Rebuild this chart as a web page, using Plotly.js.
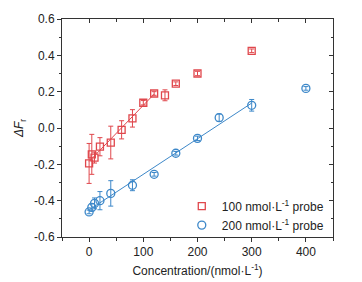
<!DOCTYPE html>
<html><head><meta charset="utf-8">
<script src="https://cdn.plot.ly/plotly-3.0.1.min.js"></script>
<style>html,body{margin:0;padding:0;background:#fff;}#chart{width:362px;height:282px;}</style>
</head><body><div id="chart"></div>
<script>
// Series 1: 100 nmol/L probe
const conc1 = [0, 5, 10, 20, 40, 60, 80, 100, 120, 140, 160, 200, 300];
const dF1   = [-0.195, -0.145, -0.163, -0.103, -0.08, -0.01, 0.053, 0.139, 0.19, 0.18, 0.244, 0.30, 0.425];
const err1  = [0.11, 0.11, 0.03, 0.05, 0.09, 0.05, 0.048, 0.012, 0.01, 0.03, 0.01, 0.012, 0.01];
// Series 2: 200 nmol/L probe
const conc2 = [0, 5, 10, 20, 40, 80, 120, 160, 200, 240, 300, 400];
const dF2   = [-0.462, -0.437, -0.415, -0.40, -0.36, -0.315, -0.255, -0.139, -0.057, 0.057, 0.125, 0.218];
const err2  = [0.01, 0.02, 0.03, 0.05, 0.07, 0.03, 0.01, 0.01, 0.012, 0.02, 0.032, 0.01];
// linear-fit ranges
const fitMax1 = 120, fitMax2 = 300;
// tick labels
const yTickVals = [-0.6, -0.4, -0.2, 0.0, 0.2, 0.4, 0.6];
const yTickText = ["-0.6", "-0.4", "-0.2", "0.0", "0.2", "0.4", "0.6"];
const xTickVals = [0, 100, 200, 300, 400];
const xTickText = ["0", "100", "200", "300", "400"];
const names = ["100 nmol·L<sup>-1</sup> probe", "200 nmol·L<sup>-1</sup> probe"];

function fit(xs, ys, xmax) {
  const px = [], py = [];
  xs.forEach((x, i) => { if (x <= xmax) { px.push(x); py.push(ys[i]); } });
  const n = px.length;
  const mx = px.reduce((a, b) => a + b, 0) / n, my = py.reduce((a, b) => a + b, 0) / n;
  let sxy = 0, sxx = 0;
  px.forEach((x, i) => { sxy += (x - mx) * (py[i] - my); sxx += (x - mx) * (x - mx); });
  const b = sxy / sxx, a = my - b * mx;
  const x0 = Math.min(...px), x1 = Math.max(...px);
  return { x: [x0, x1], y: [a + b * x0, a + b * x1] };
}
const red = '#e0474c', blue = '#3d88c9';
const f1 = fit(conc1, dF1, fitMax1), f2 = fit(conc2, dF2, fitMax2);

const traces = [
  { x: f1.x, y: f1.y, mode: 'lines', line: { color: red, width: 1 }, showlegend: false, hoverinfo: 'skip' },
  { x: f2.x, y: f2.y, mode: 'lines', line: { color: blue, width: 1 }, showlegend: false, hoverinfo: 'skip' },
  { x: conc1, y: dF1, name: names[0], mode: 'markers', type: 'scatter',
    marker: { symbol: 'square-open', size: 7, color: red, line: { width: 1.3 } },
    error_y: { type: 'data', array: err1, color: red, thickness: 1, width: 2.5 } },
  { x: conc2, y: dF2, name: names[1], mode: 'markers', type: 'scatter',
    marker: { symbol: 'circle-open', size: 8, color: blue, line: { width: 1.3 } },
    error_y: { type: 'data', array: err2, color: blue, thickness: 1, width: 2.5 } },
  { x: [], y: [], xaxis: 'x2', yaxis: 'y2', showlegend: false, hoverinfo: 'skip' }
];

const axCol = '#333';
const font = { family: 'Liberation Sans, Arial, sans-serif', size: 12, color: '#222' };
const layout = {
  width: 362, height: 282,
  margin: { l: 62, r: 29, t: 19, b: 45 },
  paper_bgcolor: '#fff', plot_bgcolor: '#fff',
  font: font,
  showlegend: true,
  legend: { x: 0.442, y: -0.012, xanchor: 'left', yanchor: 'bottom', bgcolor: 'rgba(0,0,0,0)',
            font: { family: font.family, size: 12, color: '#222' }, tracegroupgap: 0, itemwidth: 30 },
  xaxis: { range: [-50, 450], tickvals: xTickVals, ticktext: xTickText, ticks: 'outside', ticklen: 4,
           tickcolor: axCol, showline: true, linecolor: axCol, linewidth: 1, zeroline: false, showgrid: false,
           minor: { dtick: 50, tick0: 0, ticks: 'outside', ticklen: 2.5, tickcolor: axCol },
           title: { text: 'Concentration/(nmol·L<sup>-1</sup>)', font: { size: 12 }, standoff: 8 } },
  yaxis: { range: [-0.6, 0.6], tickvals: yTickVals, ticktext: yTickText, ticks: 'outside', ticklen: 4,
           tickcolor: axCol, showline: true, linecolor: axCol, linewidth: 1, zeroline: false, showgrid: false,
           minor: { dtick: 0.1, tick0: 0, ticks: 'outside', ticklen: 2.5, tickcolor: axCol },
           title: { text: '<i>ΔF</i><sub>r</sub>', font: { size: 12 }, standoff: 7 } },
  xaxis2: { overlaying: 'x', side: 'top', anchor: 'y2', range: [-50, 450], tickvals: xTickVals, ticktext: xTickText,
            ticks: 'inside', ticklen: 4, tickcolor: axCol, showticklabels: false, showline: true, linecolor: axCol,
            zeroline: false, showgrid: false,
            minor: { dtick: 50, tick0: 0, ticks: 'inside', ticklen: 2.5, tickcolor: axCol } },
  yaxis2: { overlaying: 'y', side: 'right', anchor: 'x2', range: [-0.6, 0.6], tickvals: yTickVals, ticktext: yTickText,
            ticks: 'inside', ticklen: 4, tickcolor: axCol, showticklabels: false, showline: true, linecolor: axCol,
            zeroline: false, showgrid: false,
            minor: { dtick: 0.1, tick0: 0, ticks: 'inside', ticklen: 2.5, tickcolor: axCol } }
};
Plotly.newPlot('chart', traces, layout, { displayModeBar: false, staticPlot: true });
</script></body></html>
